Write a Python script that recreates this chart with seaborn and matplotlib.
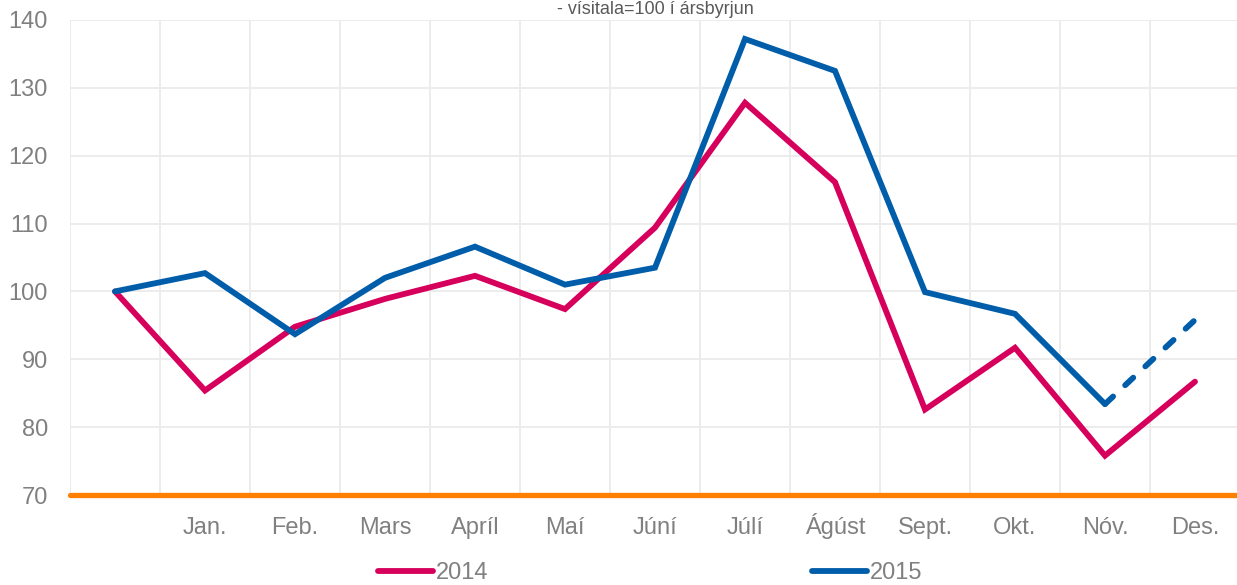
import numpy as np
import pandas as pd
import seaborn as sns
import matplotlib.pyplot as plt

months = ["", "Jan.", "Feb.", "Mars", "Apríl", "Maí", "Júní", "Júlí",
          "Ágúst", "Sept.", "Okt.", "Nóv.", "Des."]
vals_2014 = [100, 85.4, 94.8, 98.9, 102.3, 97.4, 109.4, 127.8, 116.1, 82.6, 91.7, 75.8, 86.7]
vals_2015 = [100, 102.7, 93.7, 102.0, 106.6, 101.0, 103.5, 137.2, 132.5, 99.9, 96.7, 83.4, 95.8]
# last 2015 point is an estimate (drawn dashed)
dashed_from = 11

c2014 = "#D6005C"
c2015 = "#005DAA"
grey = "#808080"
lw = 4.2
fs = 17

sns.set_theme(style="white")
plt.rcParams["font.family"] = ["Liberation Sans", "DejaVu Sans"]

x = np.arange(len(months))
df = pd.DataFrame({"x": np.concatenate([x, x]),
                   "value": vals_2014 + vals_2015,
                   "year": ["2014"] * len(x) + ["2015"] * len(x)})

fig = plt.figure(figsize=(12.37, 5.85), dpi=100)
ax = fig.add_axes([70 / 1237, 1 - 495 / 585, 1170 / 1237, 475 / 585])

solid = df[~((df["year"] == "2015") & (df["x"] > dashed_from))]
sns.lineplot(data=solid, x="x", y="value", hue="year",
             palette={"2014": c2014, "2015": c2015}, linewidth=lw,
             ax=ax, legend=False, solid_capstyle="round", solid_joinstyle="miter")
est = df[(df["year"] == "2015") & (df["x"] >= dashed_from)]
sns.lineplot(data=est, x="x", y="value", color=c2015, linewidth=lw,
             linestyle=(0, (1.9, 2.83)), dash_capstyle="round", ax=ax)

ax.axhline(70, color="#FF7F00", linewidth=3.8, zorder=5, clip_on=False)

ax.set_xlim(-0.5, 12.5)
ax.set_ylim(70, 140)
ax.set_yticks(np.arange(70, 141, 10))
ax.set_xticks(x[1:])
ax.set_xticklabels(months[1:], va="baseline")
ax.set_xticks(np.arange(-0.5, 13, 1), minor=True)
ax.grid(False)
ax.grid(True, axis="y", which="major", color="#EBEBEB", linewidth=1.3)
ax.grid(True, axis="x", which="minor", color="#EBEBEB", linewidth=1.3)
ax.tick_params(axis="both", which="both", length=0, labelsize=fs, labelcolor=grey)
ax.tick_params(axis="x", pad=28)
ax.tick_params(axis="y", pad=16)
ax.set_xlabel("")
ax.set_ylabel("")
for s in ax.spines.values():
    s.set_visible(False)

fig.text(0.53, 0.999, "- vísitala=100 í ársbyrjun", ha="center", va="top",
         fontsize=13, color="#595959")

h1 = plt.Line2D([], [], color=c2014, linewidth=lw, solid_capstyle="round")
h2 = plt.Line2D([], [], color=c2015, linewidth=lw, solid_capstyle="round")
fig.legend([h1, h2], ["2014", "2015"], loc="center", bbox_to_anchor=(0.5255, 0.02),
           ncol=2, frameon=False, fontsize=fs, labelcolor=grey,
           handlelength=2.35, handletextpad=0.1, columnspacing=13.7)

fig.savefig("out.png", dpi=100)
